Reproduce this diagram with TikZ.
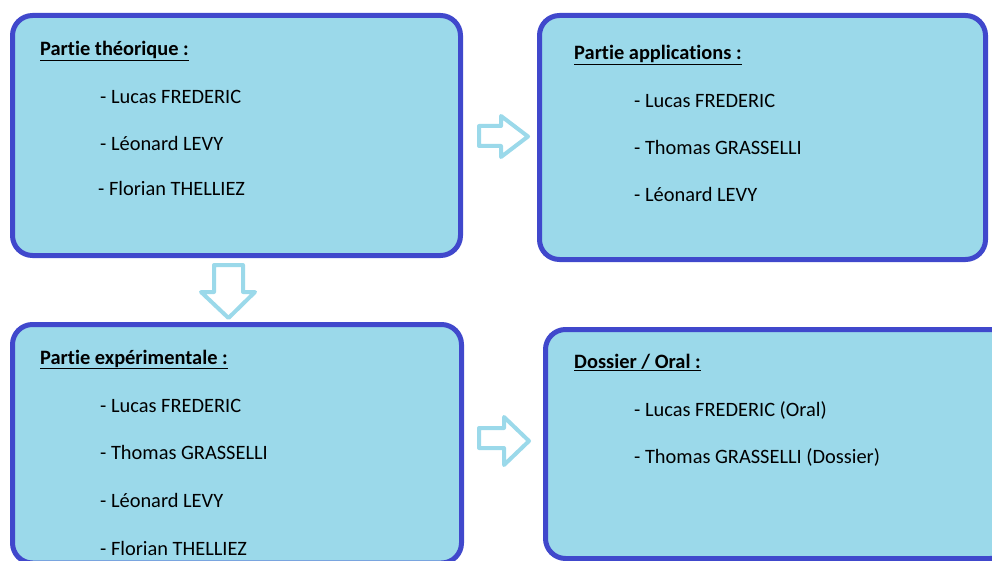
\documentclass[tikz,border=0pt]{standalone}
\usepackage{fontspec}
\setmainfont[Ligatures=CommonOff]{Carlito}
\definecolor{boxfill}{RGB}{155,217,234}
\definecolor{boxline}{RGB}{64,72,204}
\definecolor{arrowline}{RGB}{155,217,234}
\begin{document}
\begin{tikzpicture}[x=1pt,y=-1pt,
  box/.style={draw=boxline, fill=boxfill, line width=5pt, rounded corners=20pt, inner sep=0pt},
  txt/.style={anchor=base west, inner sep=0pt, font=\fontsize{20.4pt}{24pt}\selectfont},
  head/.style={txt, font=\fontsize{20.4pt}{24pt}\selectfont\bfseries},
  blockarrow/.style={draw=arrowline, fill=white, line width=4pt, line join=round}]
\useasboundingbox (0,0) rectangle (992,561);
\clip (0,0) rectangle (992,561);

% the four panels
\node[box, minimum width=448pt, minimum height=240pt] (theo) at (236.5,135.5) {};
\node[box, minimum width=446pt, minimum height=244pt] (appl) at (762.5,137.5) {};
\node[box, minimum width=449pt, minimum height=238.5pt] (expe) at (237,443.75) {};
\node[box, minimum width=464.5pt, minimum height=229pt] (doss) at (777.75,444) {};

% block arrows between the panels
\draw[blockarrow] (479,126) -- (501,126) -- (501,116) -- (528,136.5) -- (501,157) -- (501,146) -- (479,146) -- cycle;
\draw[blockarrow] (214,265) -- (243,265) -- (243,292) -- (255,292) -- (228.5,318) -- (201,292) -- (214,292) -- cycle;
\draw[blockarrow] (479,428) -- (504,428) -- (504,417) -- (529,441) -- (504,465) -- (504,448) -- (479,448) -- cycle;

% theory
\node[head] (theoH) at (40,56) {\underline{Partie théorique :}};
\node[txt] (theo1) at (100,104) {- Lucas FREDERIC};
\node[txt] (theo2) at (100,151) {- Léonard LEVY};
\node[txt] (theo3) at (98,196) {- Florian THELLIEZ};

% applications
\node[head] (applH) at (574,60) {\underline{Partie applications :}};
\node[txt] (appl1) at (634,108) {- Lucas FREDERIC};
\node[txt] (appl2) at (634,155) {- Thomas GRASSELLI};
\node[txt] (appl3) at (634,202) {- Léonard LEVY};

% experiments
\node[head] (expeH) at (40,364) {\underline{Partie expérimentale :}};
\node[txt] (expe1) at (100,412) {- Lucas FREDERIC};
\node[txt] (expe2) at (100,459) {- Thomas GRASSELLI};
\node[txt] (expe3) at (100,507) {- Léonard LEVY};
\node[txt] (expe4) at (100,555) {- Florian THELLIEZ};

% report and presentation
\node[head] (dossH) at (574,368) {\underline{Dossier / Oral :}};
\node[txt] (doss1) at (634,416) {- Lucas FREDERIC (Oral)};
\node[txt] (doss2) at (634,463) {- Thomas GRASSELLI (Dossier)};
\end{tikzpicture}
\end{document}
